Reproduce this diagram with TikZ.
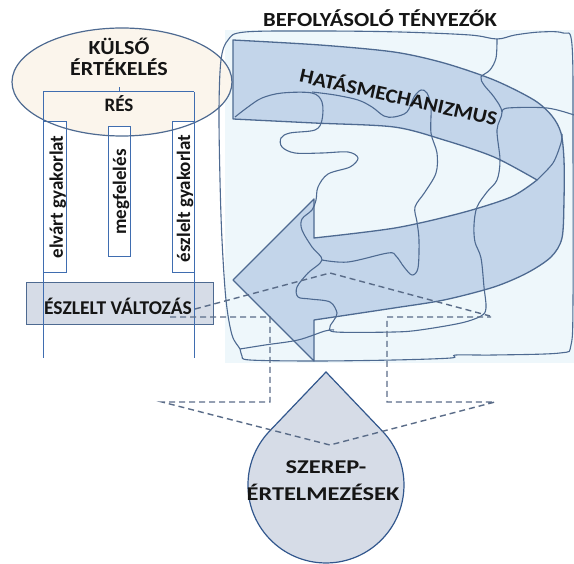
\documentclass[tikz,border=0pt]{standalone}
\usepackage{fontspec}
\setmainfont{Carlito}
\definecolor{bgc}{HTML}{EEF7FB}
\definecolor{linec}{HTML}{4E6A91}
\definecolor{arrowf}{HTML}{C3D5EA}
\definecolor{ellf}{HTML}{FBF5EC}
\definecolor{boxc}{HTML}{3F6DB0}
\definecolor{grayf}{HTML}{D6DCE7}
\definecolor{dashc}{HTML}{5A6C88}
\definecolor{txtc}{HTML}{151515}
\newcommand\hstretch[2]{\scalebox{#1}[1]{#2}}
\begin{document}
\begin{tikzpicture}[x=1pt,y=-1pt,
  wavy/.style={draw=linec, line width=1.1pt},
  arrowband/.style={fill=arrowf, draw=linec, line width=1.3pt, line join=round},
  dashedline/.style={draw=dashc, line width=1.4pt, dash pattern=on 6pt off 4pt},
  vbox/.style={draw=boxc, fill=white, line width=1pt},
  guide/.style={draw=boxc, line width=1pt},
  lbl/.style={font=\bfseries\fontsize{20}{22}\selectfont, text=txtc, inner sep=0pt, anchor=base},
  vlbl/.style={font=\bfseries\fontsize{19}{20}\selectfont, text=txtc, inner sep=0pt, rotate=90, anchor=base}]
\useasboundingbox (0,0) rectangle (574,564);
% background of influencing factors
\fill[bgc] (225,30) rectangle (574,363);
% external evaluation ellipse (fill)
\fill[ellf] (122,82) ellipse[x radius=110, y radius=54];
% big curved arrow
\path[arrowband] plot[smooth] coordinates {(233,40) (320,45) (394,52) (444,63) (494,80) (534,100) (552,116) (561,133) (564,160) (564,200) (562,238) (551,257) (527,273) (494,287) (444,300) (394,308) (314,320)}
  -- (314,361) -- (233,280) -- (314,199) -- (314,238)
  -- plot[smooth] coordinates {(314,238) (395,228) (461,213) (511,197) (537,180)}
  -- plot[smooth] coordinates {(537,180) (494,157) (444,140) (394,127) (314,123) (233,119)} -- cycle;
\draw[wavy] plot[smooth] coordinates {(537,180) (553,163) (561,143) (562,134)};
% wavy outlines
\draw[wavy] plot[smooth cycle, tension=0.55] coordinates {(219,110) (221,60) (228,40) (245,32) (320,31) (400,32) (470,35) (497,39) (515,35) (540,32) (563,33) (572,45) (573,150) (573,300) (571,345) (560,353) (494,355) (456,355) (451,358) (394,360) (315,361) (250,360) (242,356) (240,349) (232,335) (226,300) (222,240) (220,180)};
\draw[wavy] plot[smooth, tension=0.55] coordinates {(240,349) (265,345) (298,340) (325,331) (334,330)};
\draw[wavy] plot[smooth, tension=0.55] coordinates {(497,39) (496,58) (490,70) (481,77) (484,85) (494,97) (502,112) (497,130) (500,160) (497,180) (487,192) (477,207) (474,225) (475,242) (481,258) (484,287) (486,308) (481,316) (461,323) (420,330) (394,332) (336,332) (330,327) (334,320) (337,313) (330,302) (310,299) (298,297) (297,287) (308,273) (322,260) (312,247) (302,230) (302,219) (312,210) (316,200) (318,187) (328,174) (350,167) (358,158) (348,152) (322,153) (295,153) (282,147) (281,138) (290,133) (315,130) (322,120) (322,102) (312,93) (282,93) (262,98) (248,107) (235,117)};
\draw[wavy] plot[smooth, tension=0.55] coordinates {(322,260) (348,262) (388,253) (396,256) (404,267) (412,275) (418,268) (419,240) (417,222) (415,207) (425,192) (436,173) (437,153) (431,133) (431,107) (427,93) (421,90) (414,97) (407,112) (394,117) (384,116) (372,107) (358,100) (335,95) (312,92)};
\draw[wavy] plot[smooth, tension=0.55] coordinates {(502,112) (508,108) (547,108) (574,115)};
% perceived change box
\node[draw=linec, fill=grayf, line width=1pt, minimum width=187pt, minimum height=42pt, inner sep=0pt] (valt) at (119.5,304) {};
% vertical boxes
\node[vbox, minimum width=23pt, minimum height=151pt, inner sep=0pt] (elv) at (54.5,197.5) {};
\node[vbox, minimum width=22pt, minimum height=130pt, inner sep=0pt] (megf) at (119,192) {};
\node[vbox, minimum width=22pt, minimum height=151pt, inner sep=0pt] (eszl) at (183,197.5) {};
% ellipse outline
\draw[linec, line width=1.2pt] (122,82) ellipse[x radius=110, y radius=54];
% bracket and guide lines
\coordinate (bl) at (43,92);
\coordinate (br) at (194,92);
\coordinate (bm) at (119,92);
\coordinate (bt) at (119,87);
\coordinate (bl2) at (43,358);
\coordinate (br2) at (194,358);
\draw[guide] (bl) -- (br);
\draw[guide] (bm) -- (bt);
\draw[guide] (bl) -- (bl2);
\draw[guide] (br) -- (br2);
% drop
\draw[draw=boxc!80!black, fill=grayf, line width=1.2pt] (326,372) -- (269.5,431.2) arc[start angle=-136.4, end angle=-403.6, radius=78] -- cycle;
% dashed projections
\coordinate (d0) at (195,309);
\coordinate (d1) at (330,273);
\coordinate (d2) at (490,316);
\coordinate (h0) at (170,317);
\coordinate (h1) at (270,317);
\coordinate (h2) at (270,402);
\coordinate (h3) at (162,402);
\coordinate (h4) at (330,445);
\coordinate (h5) at (495,402);
\coordinate (h6) at (387,402);
\coordinate (h7) at (387,317);
\coordinate (h8) at (491,317);
\draw[dashedline] (d0) -- (d1) -- (d2);
\draw[dashedline] (h0) -- (h1) -- (h2) -- (h3) -- (h4) -- (h5) -- (h6) -- (h7) -- (h8);
% texts
\node[lbl] (kulso1) at (119,55) {\hstretch{1.1}{KÜLSŐ}};
\node[lbl] (kulso2) at (119,76) {\hstretch{1.1}{ÉRTÉKELÉS}};
\node[lbl, font=\bfseries\fontsize{19}{20}\selectfont] (res) at (119,112) {RÉS};
\node[lbl] (title) at (380,27) {\hstretch{1.13}{BEFOLYÁSOLÓ TÉNYEZŐK}};
\node[lbl, rotate=-12.6] (hatas) at (397,104) {\hstretch{1.1}{HATÁSMECHANIZMUS}};
\node[vlbl] (t1) at (63,197) {elvárt gyakorlat};
\node[vlbl] (t2) at (126,192) {megfelelés};
\node[vlbl] (t3) at (190,198.5) {észlelt gyakorlat};
\node[lbl, font=\bfseries\fontsize{19.5}{22}\selectfont] (t4) at (118,315) {ÉSZLELT VÁLTOZÁS};
\node[lbl, font=\bfseries\fontsize{19.5}{22}\selectfont] (szerep1) at (326,474) {\hstretch{1.25}{SZEREP-}};
\node[lbl, font=\bfseries\fontsize{19.5}{22}\selectfont] (szerep2) at (323,501) {\hstretch{1.25}{ÉRTELMEZÉSEK}};
\end{tikzpicture}
\end{document}
